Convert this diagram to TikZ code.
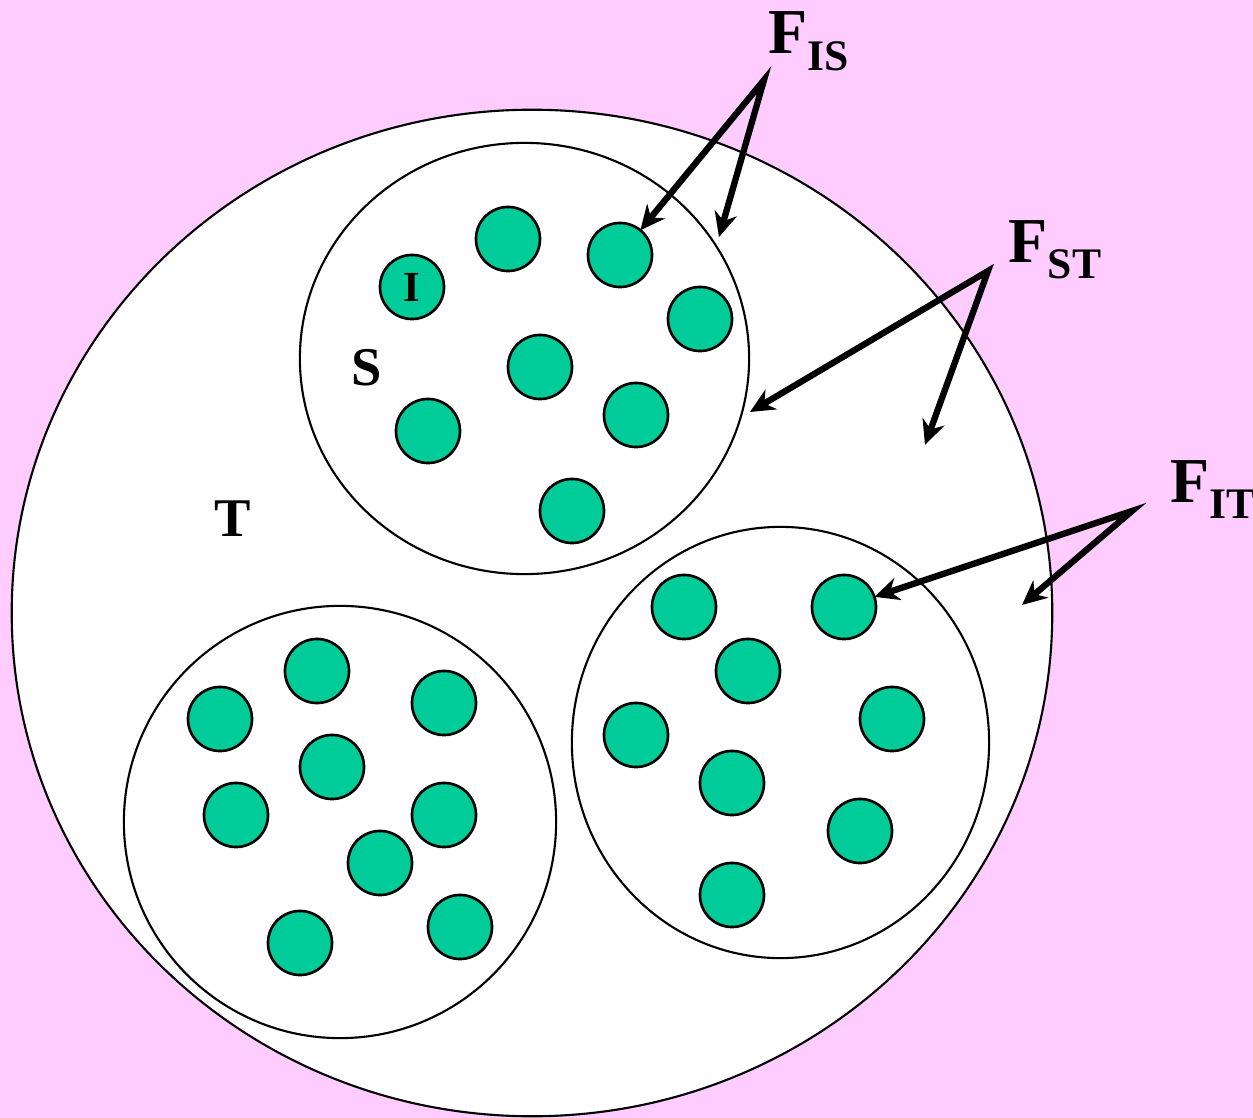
\documentclass[tikz,border=0pt]{standalone}
\usepackage{fontspec}
\setmainfont{Liberation Serif}
\usetikzlibrary{arrows.meta,shapes.geometric}
\definecolor{bgpink}{RGB}{255,204,255}
\definecolor{dotgreen}{RGB}{0,204,153}
\newcommand{\fsub}[1]{\raisebox{-0.16cm}{\fontsize{12.4}{13}\selectfont #1}}

\begin{document}
\begin{tikzpicture}[
    x=0.01cm, y=-0.01cm,
    ring/.style={ellipse,draw,fill=white,line width=0.6pt,inner sep=0pt,outer sep=0pt},
    dot/.style={circle,draw,fill=dotgreen,line width=0.75pt,minimum size=0.64cm,
      inner sep=0pt,outer sep=0pt},
    tag/.style={font=\bfseries\fontsize{15.5}{16}\selectfont,inner sep=0pt},
    flab/.style={font=\bfseries\fontsize{18.2}{20}\selectfont,inner sep=0pt,anchor=base west},
    arr/.style={{Stealth[length=7pt,width=6.5pt]}-{Stealth[length=7pt,width=6.5pt]},
      line width=1.8pt,line join=miter}
  ]
    \useasboundingbox (0,0) rectangle (1253,1118);
    \fill[bgpink] (0,0) rectangle (1253,1118);

    % population rings
    \node[ring,minimum width=10.4cm,minimum height=10.06cm] (popT) at (532,613) {};
    \node[ring,minimum width=4.49cm,minimum height=4.31cm] (subS) at (524.5,358.5) {};
    \node[ring,minimum width=4.32cm,minimum height=4.32cm] (subB) at (340,822) {};
    \node[ring,minimum width=4.17cm,minimum height=4.31cm] (subR) at (780.5,742.5) {};

    % individuals in S
    \node[dot,font=\bfseries\fontsize{12.2}{13}\selectfont] (s1) at (412,287) {I};
    \node[dot] (s2) at (508,239) {};
    \node[dot] (s3) at (620,255) {};
    \node[dot] (s4) at (700,319) {};
    \node[dot] (s5) at (540,367) {};
    \node[dot] (s6) at (636,415) {};
    \node[dot] (s7) at (428,431) {};
    \node[dot] (s8) at (572,511) {};

    % individuals bottom left
    \node[dot] (b1) at (317,671) {};
    \node[dot] (b2) at (220,719) {};
    \node[dot] (b3) at (444,703) {};
    \node[dot] (b4) at (332,767) {};
    \node[dot] (b5) at (236,815) {};
    \node[dot] (b6) at (444,815) {};
    \node[dot] (b7) at (380,863) {};
    \node[dot] (b8) at (460,927) {};
    \node[dot] (b9) at (300,943) {};

    % individuals right
    \node[dot] (r1) at (684,607) {};
    \node[dot] (r2) at (844,607) {};
    \node[dot] (r3) at (748,671) {};
    \node[dot] (r4) at (892,719) {};
    \node[dot] (r5) at (636,735) {};
    \node[dot] (r6) at (732,783) {};
    \node[dot] (r7) at (860,831) {};
    \node[dot] (r8) at (732,895) {};

    \node[tag] (labS) at (367,368) {S};
    \node[tag] (labT) at (233,519) {T};

    % F statistics
    \node[flab] (fis) at (768,54) {F\fsub{IS}};
    \node[flab] (fst) at (1008,262) {F\fsub{ST}};
    \node[flab] (fit) at (1170,502) {F\fsub{IT}};

    \coordinate (fis-src) at (764,80);
    \coordinate (fis-tip) at (719,237);
    \coordinate (fst-src) at (988,271);
    \coordinate (fst-tip1) at (750,412);
    \coordinate (fst-tip2) at (925,445);
    \coordinate (fit-src) at (1132,511);
    \coordinate (fit-tip) at (1022,605);

    \draw[arr] (s3) -- (fis-src) -- (fis-tip);
    \draw[arr] (fst-tip1) -- (fst-src) -- (fst-tip2);
    \draw[arr] (r2) -- (fit-src) -- (fit-tip);
  \end{tikzpicture}
\end{document}
